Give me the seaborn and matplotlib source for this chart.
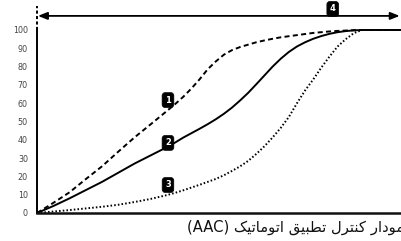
import matplotlib
matplotlib.use("Agg")
import matplotlib.pyplot as plt
import seaborn as sns
import pandas as pd

# ---------------- data ----------------
x_vals = [0, 5, 10, 15, 20, 25, 30, 35, 40, 42.5, 45, 47.5, 50, 52.5, 55, 57.5, 60,
          62.5, 65, 67.5, 70, 72.5, 75, 77.5, 80, 82.5, 85, 87.5, 90, 92.5, 95, 97.5, 100, 112]
curve1 = [0, 5.5, 11.3, 18.5, 25.5, 33.5, 41.3, 48.5, 55.8, 59.5, 63.5, 68, 73, 78.5,
          82.8, 86.5, 89, 90.7, 92, 93.3, 94.3, 95.2, 96, 96.6, 97.2, 97.8, 98.4, 98.8,
          99.2, 99.5, 99.7, 99.9, 100, 100]
curve2 = [0, 3.8, 8, 12.5, 17, 22, 27, 31.5, 36, 38.5, 41.2, 43.6, 46, 48.5, 51.2, 54.2,
          57.6, 61.5, 65.7, 70.4, 75.2, 80, 84.3, 88, 91, 93.3, 95.2, 96.7, 97.9, 98.8,
          99.4, 99.8, 100, 100]
curve3 = [0, 0.8, 1.6, 2.5, 3.4, 4.5, 6, 7.7, 9.8, 11, 12.4, 13.9, 15.4, 17, 18.6, 20.6,
          23, 25.5, 28.5, 32.3, 36.5, 41.3, 46.5, 52.5, 60, 67, 73, 79.5, 85.5, 91, 95,
          98.3, 100, 100]
y_ticks = [0, 10, 20, 30, 40, 50, 60, 70, 80, 90, 100]
marker_labels = ["1", "2", "3", "4"]
caption = "نمودار کنترل تطبیق اتوماتیک (AAC)"

# ---------------- minimal Arabic shaping (matplotlib has no shaping/bidi) ----------------
FORMS = {
    'ا': (0xFE8D, 0xFE8E, None, None),
    'ب': (0xFE8F, 0xFE90, 0xFE91, 0xFE92),
    'ت': (0xFE95, 0xFE96, 0xFE97, 0xFE98),
    'د': (0xFEA9, 0xFEAA, None, None),
    'ر': (0xFEAD, 0xFEAE, None, None),
    'ط': (0xFEC1, 0xFEC2, 0xFEC3, 0xFEC4),
    'ق': (0xFED5, 0xFED6, 0xFED7, 0xFED8),
    'ک': (0xFB8E, 0xFB8F, 0xFB90, 0xFB91),
    'ل': (0xFEDD, 0xFEDE, 0xFEDF, 0xFEE0),
    'م': (0xFEE1, 0xFEE2, 0xFEE3, 0xFEE4),
    'ن': (0xFEE5, 0xFEE6, 0xFEE7, 0xFEE8),
    'و': (0xFEED, 0xFEEE, None, None),
    'ی': (0xFBFC, 0xFBFD, 0xFBFE, 0xFBFF),
}


def joins_left(c):
    return c in FORMS and FORMS[c][2] is not None


def shape_word(w):
    out = []
    for i, c in enumerate(w):
        if c not in FORMS:
            out.append(c)
            continue
        prev_j = i > 0 and joins_left(w[i - 1])
        next_j = i < len(w) - 1 and w[i + 1] in FORMS and joins_left(c)
        iso, fin, ini, med = FORMS[c]
        if prev_j and next_j:
            g = med
        elif prev_j:
            g = fin
        elif next_j:
            g = ini
        else:
            g = iso
        out.append(chr(g))
    return ''.join(out)


def visual_rtl(text):
    toks = text.split(' ')
    vis = []
    for t in toks:
        if any(ch in FORMS for ch in t):
            vis.append(shape_word(t)[::-1])
        else:
            vis.append(t)
    return ' '.join(reversed(vis))


# ---------------- figure ----------------
sns.set_style("white")
plt.rcParams['font.family'] = ['DejaVu Sans']

fig = plt.figure(figsize=(4.01, 2.41), dpi=100)
ax = fig.add_axes([37 / 401, 28 / 241, 364 / 401, (213 - 6.2) / 241])

df = pd.DataFrame({"x": x_vals, "c1": curve1, "c2": curve2, "c3": curve3})
lw = 1.4
sns.lineplot(data=df, x="x", y="c1", ax=ax, color="black", lw=lw,
             linestyle=(0, (2.6, 1.7)), clip_on=False)
sns.lineplot(data=df, x="x", y="c2", ax=ax, color="black", lw=lw, clip_on=False)
sns.lineplot(data=df, x="x", y="c3", ax=ax, color="black", lw=lw,
             linestyle=(0, (0.8, 1.1)), clip_on=False)

ax.set_xlim(0, 112)
ax.set_ylim(0, 113)
ax.set_xticks([])
ax.set_yticks(y_ticks)
ax.set_yticklabels([str(v) for v in y_ticks])
ax.tick_params(axis='y', length=0, pad=6.5, labelsize=5.8, labelcolor='#444444')
ax.set_xlabel("")
ax.set_ylabel("")

for s in ["top", "right"]:
    ax.spines[s].set_visible(False)
ax.spines["left"].set_bounds(0, 100)
ax.spines["left"].set_linewidth(1.4)
ax.spines["left"].set_color("black")
ax.spines["bottom"].set_linewidth(1.8)
ax.spines["bottom"].set_color("#111111")

# dashed continuation of y axis
ax.axvline(0, ymin=100 / 113, ymax=1, color="black", lw=1.4,
           linestyle=(0, (1.6, 1.2)), clip_on=False)

# top double arrow
ax.annotate("", xy=(111.6, 107.7), xytext=(0.3, 107.7),
            arrowprops=dict(arrowstyle="<|-|>,head_length=0.55,head_width=0.22",
                            color="black", lw=1.3, shrinkA=0, shrinkB=0),
            annotation_clip=False)

# numbered markers
label_pos = [(40.3, 61.7), (40.3, 38.3), (40.3, 15.3), (91.0, 111.5)]
for lab, (lx, ly) in zip(marker_labels, label_pos):
    ax.text(lx, ly, lab, color="white", fontsize=6, fontweight="bold",
            ha="center", va="center",
            bbox=dict(boxstyle="round,pad=0.35,rounding_size=0.35",
                      fc="black", ec="black", lw=0.5))

# caption (right-to-left, clipped at right edge like the reference)
fig.text(187 / 401, (241 - 232) / 241, visual_rtl(caption), fontsize=10.6,
         ha="left", va="baseline", color="#111111", family=["DejaVu Sans"])

fig.savefig("out.png", dpi=100)
